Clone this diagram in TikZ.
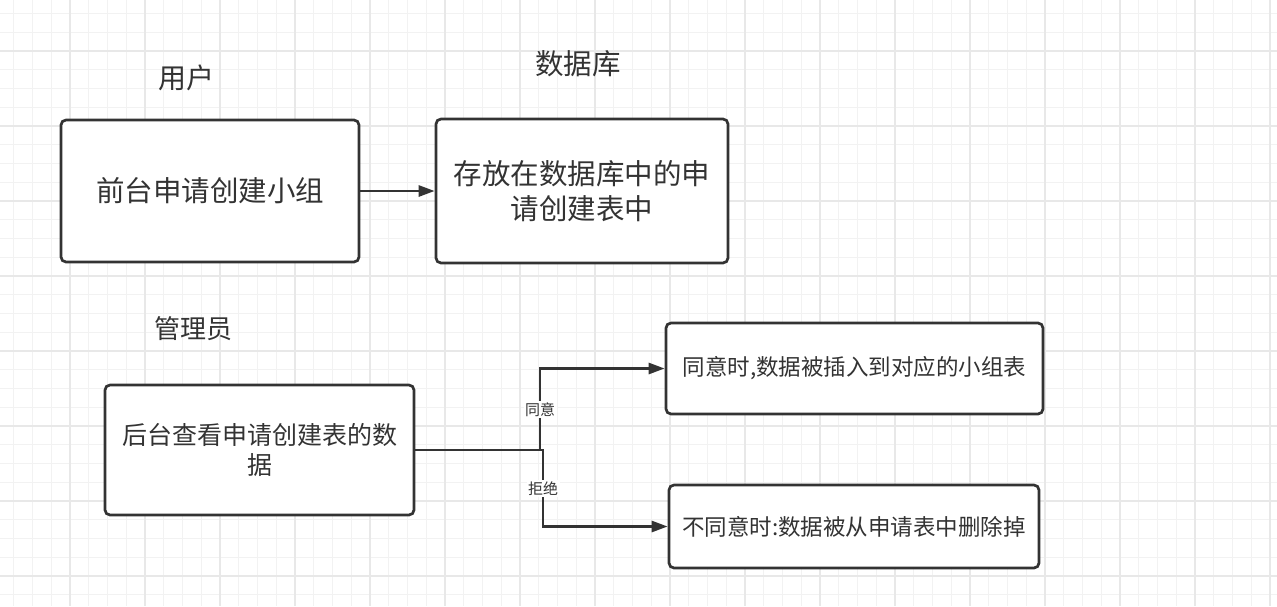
\documentclass[tikz,border=0pt]{standalone}
\usepackage{fontspec}
\setmainfont{Noto Sans CJK SC}
\usetikzlibrary{arrows.meta}
\definecolor{inkgray}{HTML}{333333}
\definecolor{gridminor}{HTML}{F2F2F2}
\definecolor{gridmajor}{HTML}{E8E8E8}

\begin{document}
\begin{tikzpicture}[x=1pt,y=-1pt,
  flowbox/.style={draw=inkgray,line width=2.7pt,rounded corners=5pt,fill=white,
    inner sep=0pt,align=center,text=inkgray},
  flowarrow/.style={draw=inkgray,line width=2.7pt,-{Triangle[length=16pt,width=11pt]}},
  rolelabel/.style={text=inkgray,inner sep=0pt},
  edgelabel/.style={fill=white,text=inkgray,inner sep=1.5pt,font=\fontsize{15}{18}\selectfont}]
  \useasboundingbox (0,0) rectangle (1277,606);
  \fill[white] (0,0) rectangle (1277,606);

  % background grid
  \foreach \i in {0,...,67}
    \draw[gridminor,line width=1.3pt] ({13.75+18.75*\i},0) -- ({13.75+18.75*\i},606);
  \foreach \j in {0,...,31}
    \draw[gridminor,line width=1.3pt] (0,{13.5+18.75*\j}) -- (1277,{13.5+18.75*\j});
  \foreach \i in {0,...,16}
    \draw[gridmajor,line width=1.6pt] ({70+75*\i},0) -- ({70+75*\i},606);
  \foreach \j in {0,...,7}
    \draw[gridmajor,line width=1.6pt] (0,{51+75*\j}) -- (1277,{51+75*\j});

  % roles
  \node[rolelabel,font=\fontsize{28}{34}\selectfont] (user) at (186,78) {用户};
  \node[rolelabel,font=\fontsize{28.5}{34}\selectfont] (db) at (578,64) {数据库};
  \node[rolelabel,font=\fontsize{26}{31}\selectfont] (adminrole) at (193,329) {管理员};

  % boxes
  \node[flowbox,minimum width=298pt,minimum height=142pt,font=\fontsize{28.5}{35}\selectfont]
    (apply) at (210,191) {前台申请创建小组};
  \node[flowbox,minimum width=292pt,minimum height=144pt,font=\fontsize{28.5}{35}\selectfont]
    (store) at (582,191) {存放在数据库中的申\\请创建表中};
  \node[flowbox,minimum width=309pt,minimum height=130pt,font=\fontsize{25}{30}\selectfont]
    (review) at (259.5,450) {后台查看申请创建表的数\\据};
  \node[flowbox,minimum width=377pt,minimum height=91pt,font=\fontsize{22.5}{27}\selectfont]
    (agree) at (854.5,368.5) {同意时,数据被插入到对应的小组表};
  \node[flowbox,minimum width=370pt,minimum height=83pt,font=\fontsize{22.5}{27}\selectfont]
    (reject) at (854,526.5) {不同意时:数据被从申请表中删除掉};

  % connectors
  \coordinate (splitup) at (540,450);
  \coordinate (splitdown) at (543,450);
  \draw[flowarrow] (apply) -- (store);
  \draw[flowarrow] (review.east) -- (splitup) |- node[edgelabel,pos=0.25] (agreelabel) {同意} (agree.west);
  \draw[flowarrow] (review.east) -- (splitdown) |- node[edgelabel,pos=0.25] (rejectlabel) {拒绝} (reject.west);
\end{tikzpicture}
\end{document}
